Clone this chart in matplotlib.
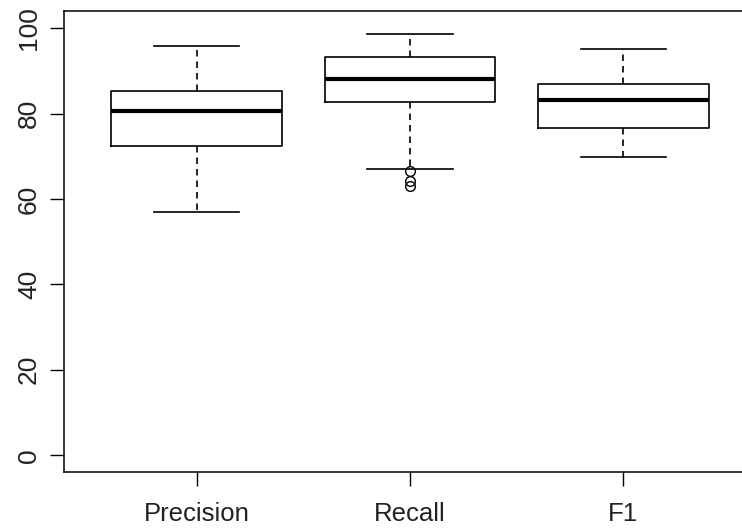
import matplotlib
matplotlib.use("Agg")
import matplotlib.pyplot as plt

# --- box statistics ---
labels = ["Precision", "Recall", "F1"]
whislo = [57.0, 67.1, 69.8]
q1 = [72.5, 82.8, 76.7]
med = [80.7, 88.0, 83.1]
q3 = [85.2, 93.2, 86.9]
whishi = [95.9, 98.7, 95.1]
fliers = [[], [66.5, 64.1, 63.0], []]

y_ticks = [0, 20, 40, 60, 80, 100]

stats = [dict(label=l, whislo=a, q1=b, med=c, q3=d, whishi=e, fliers=f)
         for l, a, b, c, d, e, f in zip(labels, whislo, q1, med, q3, whishi, fliers)]

plt.rcParams["font.family"] = ["Liberation Sans", "DejaVu Sans"]

fig = plt.figure(figsize=(7.42, 5.28), dpi=100)
W, H = 742, 528
left, right, top, bottom = 64.3, 755.5, 11, 472.3
ax = fig.add_axes([left / W, 1 - bottom / H, (right - left) / W, (bottom - top) / H])

lw = 1.2
ax.bxp(stats, positions=[1, 2, 3], widths=0.8, showfliers=True,
       boxprops=dict(color="black", linewidth=lw),
       medianprops=dict(color="black", linewidth=3.0, solid_capstyle="butt"),
       whiskerprops=dict(color="black", linewidth=lw, linestyle=(0, (3.9, 3.0))),
       capprops=dict(color="black", linewidth=lw),
       capwidths=0.4,
       flierprops=dict(marker="o", markerfacecolor="none", markeredgecolor="black",
                       markersize=7, markeredgewidth=1.0))

ax.set_xlim(0.38, 3.62)
ax.set_ylim(-4, 104)
ax.set_yticks(y_ticks)
ax.set_yticklabels([str(v) for v in y_ticks], rotation=90, va="center")
ax.set_xticks([1, 2, 3])
ax.set_xticklabels(labels)
ax.tick_params(axis="y", length=9.8, width=1.0, pad=7, labelsize=19, colors="black",
               labelcolor="#222222")
ax.tick_params(axis="x", length=10.4, width=1.0, pad=11, labelsize=18.5, colors="black",
               labelcolor="#222222")
for s in ax.spines.values():
    s.set_linewidth(1.1)

fig.savefig("out.png", dpi=100)
